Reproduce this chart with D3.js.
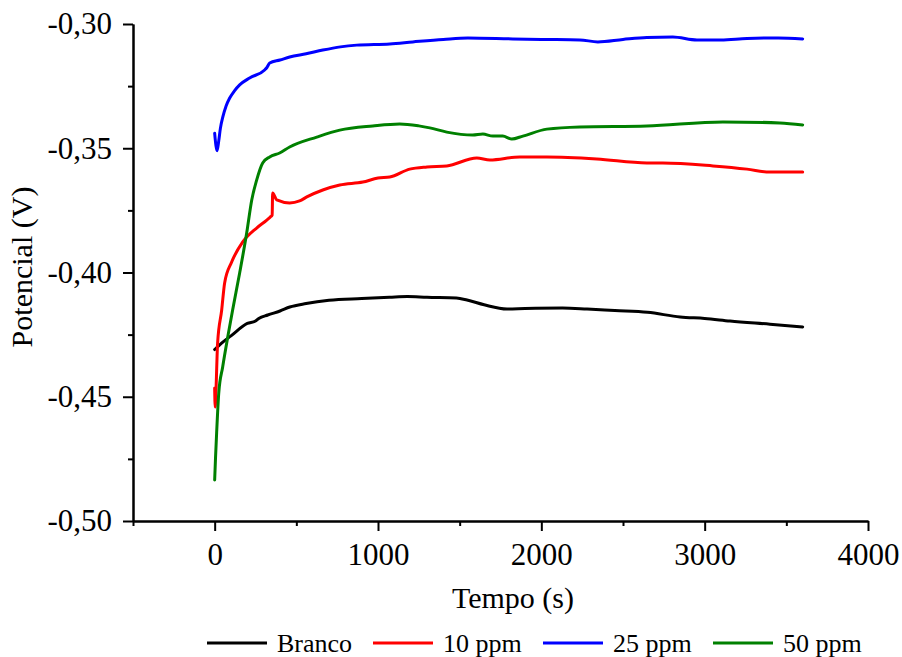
<!DOCTYPE html>
<html>
<head>
<meta charset="utf-8">
<script src="https://cdn.jsdelivr.net/npm/d3@7"></script>
<style>
    body { margin: 0; background: #fff; }
    .axis text { font-family: 'Liberation Serif', 'Times New Roman', serif; font-size: 31px; fill: #000; }
    .axis path, .axis line { stroke: #000; stroke-width: 2; }
    .title { font-family: 'Liberation Serif', 'Times New Roman', serif; font-size: 30px; fill: #000; }
    .legend text { font-family: 'Liberation Serif', 'Times New Roman', serif; font-size: 26px; fill: #000; }
</style>
</head>
<body>
<div id="chart"></div>
<script>
'use strict';
// Series: [tempo (s), potencial (V)]
const branco = [
    [0, -0.4310], [50, -0.4280], [100, -0.4255], [200, -0.4205], [250, -0.4195], [270, -0.4185],
    [325, -0.4171], [400, -0.4155], [460, -0.4139], [560, -0.4125], [700, -0.4112], [900, -0.4105],
    [1070, -0.4100], [1180, -0.4097], [1300, -0.4100], [1480, -0.4103], [1545, -0.4111], [1650, -0.4130],
    [1790, -0.4147], [1900, -0.4145], [2130, -0.4143], [2280, -0.4147], [2450, -0.4153], [2650, -0.4160],
    [2850, -0.4179], [3000, -0.4185], [3155, -0.4195], [3400, -0.4208], [3600, -0.4219]
]
const ppm10 = [
    [0, -0.4465], [3, -0.4541], [8, -0.4475], [18, -0.4284], [43, -0.4151], [61, -0.4042],
    [104, -0.3958], [172, -0.3877], [257, -0.3821], [319, -0.3789], [340, -0.3777], [352, -0.3769],
    [355, -0.3680], [365, -0.3690], [380, -0.3708], [459, -0.3720], [520, -0.3712], [564, -0.3696],
    [662, -0.3668], [766, -0.3648], [907, -0.3636], [1000, -0.3620], [1072, -0.3616], [1194, -0.3584],
    [1300, -0.3575], [1421, -0.3571], [1605, -0.3539], [1685, -0.3547], [1868, -0.3535], [2034, -0.3535],
    [2340, -0.3543], [2646, -0.3559], [2744, -0.3559], [3051, -0.3571], [3259, -0.3584], [3400, -0.3596],
    [3600, -0.3596]
]
const ppm25 = [
    [0, -0.3440], [8, -0.3490], [15, -0.3510], [25, -0.3470], [35, -0.3420], [50, -0.3374],
    [70, -0.3330], [92, -0.3298], [120, -0.3270], [153, -0.3245], [214, -0.3217], [306, -0.3185],
    [320, -0.3175], [337, -0.3157], [400, -0.3145], [459, -0.3133], [560, -0.3120], [662, -0.3105],
    [770, -0.3092], [870, -0.3085], [1072, -0.3080], [1213, -0.3072], [1400, -0.3062], [1550, -0.3056],
    [1825, -0.3060], [2000, -0.3062], [2236, -0.3064], [2346, -0.3072], [2500, -0.3062], [2646, -0.3054],
    [2805, -0.3052], [2953, -0.3064], [3100, -0.3064], [3259, -0.3058], [3450, -0.3056], [3600, -0.3060]
]
const ppm50 = [
    [0, -0.4835], [5, -0.4750], [12, -0.4646], [25, -0.4485], [49, -0.4380], [80, -0.4260],
    [110, -0.4151], [153, -0.4002], [196, -0.3841], [227, -0.3708], [257, -0.3628], [294, -0.3559],
    [337, -0.3535], [398, -0.3519], [459, -0.3495], [625, -0.3455], [766, -0.3427], [968, -0.3410],
    [1133, -0.3402], [1250, -0.3410], [1317, -0.3418], [1421, -0.3435], [1580, -0.3447], [1642, -0.3443],
    [1703, -0.3451], [1764, -0.3451], [1819, -0.3463], [1887, -0.3451], [2034, -0.3423], [2236, -0.3414],
    [2646, -0.3410], [3112, -0.3394], [3461, -0.3398], [3600, -0.3406]
]
const seriesNames = ['Branco', '10 ppm', '25 ppm', '50 ppm']
const seriesColors = ['#000000', '#ff0000', '#0000ff', '#008000']
const xMajorTicks = [0, 1000, 2000, 3000, 4000]
const xMinorTicks = [-500, 500, 1500, 2500, 3500]
const yMajorTicks = [-0.50, -0.45, -0.40, -0.35, -0.30]
const yMinorTicks = [-0.475, -0.425, -0.375, -0.325]

const margin = { top: 24, right: 34, bottom: 136, left: 133 }
const width = 902 - margin.left - margin.right
const height = 657 - margin.top - margin.bottom

const svg = d3.select('#chart').append('svg')
    .attr('width', 902)
    .attr('height', 657)
const g = svg.append('g')
    .attr('transform', `translate(${margin.left},${margin.top})`)

const x = d3.scaleLinear()
    .domain([-500, 4000])
    .range([0, width])
const y = d3.scaleLinear()
    .domain([-0.50, -0.30])
    .range([height, 0])

g.append('g') // x minor ticks
    .attr('class', 'axis')
    .attr('transform', `translate(0, ${height})`)
    .call(d3.axisBottom(x).tickValues(xMinorTicks).tickSize(5).tickSizeOuter(0).tickFormat(''))
g.append('g') // x axis
    .attr('class', 'axis')
    .attr('transform', `translate(0, ${height})`)
    .call(d3.axisBottom(x).tickValues(xMajorTicks).tickSize(10).tickSizeOuter(0).tickPadding(12).tickFormat(d3.format('d')))
g.append('g') // y minor ticks
    .attr('class', 'axis')
    .call(d3.axisLeft(y).tickValues(yMinorTicks).tickSize(5).tickSizeOuter(0).tickFormat(''))
g.append('g') // y axis
    .attr('class', 'axis')
    .call(d3.axisLeft(y).tickValues(yMajorTicks).tickSize(10).tickSizeOuter(0).tickPadding(11)
        .tickFormat(d => d.toFixed(2).replace('.', ',')))

const line = d3.line()
    .curve(d3.curveMonotoneX)
    .x(d => x(d[0]))
    .y(d => y(d[1]))

const allSeries = [branco, ppm10, ppm25, ppm50]
allSeries.forEach((s, i) => {
    g.append('path').datum(s) // series line
        .attr('fill', 'none')
        .attr('stroke', seriesColors[i])
        .attr('stroke-width', 3)
        .attr('stroke-linejoin', 'round')
        .attr('stroke-linecap', 'round')
        .attr('d', line)
})

svg.append('text') // x axis label
    .attr('class', 'title')
    .attr('x', 513)
    .attr('y', 608)
    .attr('text-anchor', 'middle')
    .text('Tempo (s)')
svg.append('text') // y axis label
    .attr('class', 'title')
    .attr('transform', 'translate(32, 267) rotate(-90)')
    .attr('text-anchor', 'middle')
    .text('Potencial (V)')

const legendX = [207, 373, 543, 713]
const legend = svg.append('g').attr('class', 'legend')
seriesNames.forEach((name, i) => {
    legend.append('line')
        .attr('x1', legendX[i])
        .attr('x2', legendX[i] + 60)
        .attr('y1', 643)
        .attr('y2', 643)
        .attr('stroke', seriesColors[i])
        .attr('stroke-width', 3)
    legend.append('text')
        .attr('x', legendX[i] + 70)
        .attr('y', 652)
        .text(name)
})
</script>
</body>
</html>
